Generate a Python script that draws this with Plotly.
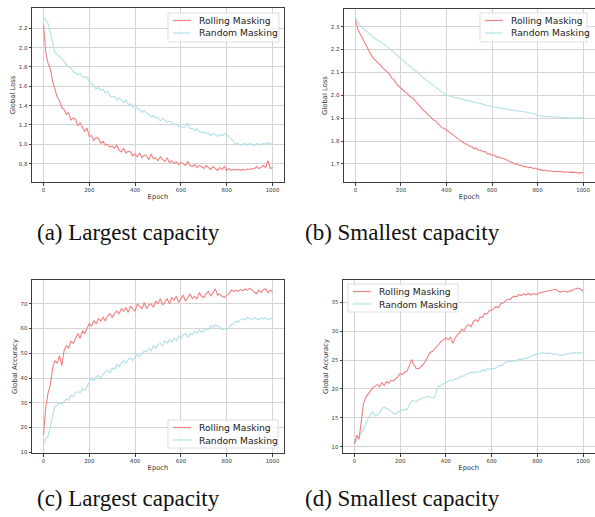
import plotly.graph_objects as go

# ---------------- data ----------------
epochs = list(range(0, 1001, 10))

loss_large_rolling = [
    2.24, 1.95, 1.84, 1.78, 1.65, 1.57, 1.49, 1.45, 1.38, 1.36,
    1.31, 1.33, 1.25, 1.27, 1.26, 1.19, 1.22, 1.18, 1.13, 1.17,
    1.08, 1.09, 1.04, 1.07, 1.06, 1.01, 1.03, 0.99, 1.00, 0.97,
    0.98, 0.96, 0.99, 0.94, 0.92, 0.96, 0.91, 0.93, 0.92, 0.88,
    0.90, 0.87, 0.91, 0.86, 0.89, 0.88, 0.84, 0.90, 0.85, 0.86,
    0.83, 0.87, 0.84, 0.82, 0.86, 0.81, 0.83, 0.80, 0.82, 0.79,
    0.81, 0.80, 0.78, 0.82, 0.78, 0.77, 0.79, 0.76, 0.78, 0.77,
    0.75, 0.78, 0.76, 0.74, 0.77, 0.75, 0.73, 0.76, 0.74, 0.77,
    0.73, 0.75, 0.73, 0.74, 0.735, 0.74, 0.73, 0.74, 0.735, 0.745,
    0.74, 0.75, 0.745, 0.77, 0.75, 0.76, 0.78, 0.76, 0.83, 0.75,
    0.76,
]
loss_large_random = [
    2.32, 2.29, 2.25, 2.15, 2.05, 1.95, 1.93, 1.91, 1.88, 1.86,
    1.82, 1.80, 1.79, 1.75, 1.74, 1.72, 1.73, 1.70, 1.69, 1.70,
    1.64, 1.62, 1.61, 1.57, 1.59, 1.56, 1.57, 1.53, 1.55, 1.50,
    1.49, 1.50, 1.46, 1.48, 1.45, 1.43, 1.46, 1.41, 1.42, 1.38,
    1.41, 1.37, 1.36, 1.33, 1.35, 1.32, 1.31, 1.28, 1.30, 1.27,
    1.28, 1.24, 1.27, 1.25, 1.23, 1.24, 1.22, 1.20, 1.21, 1.18,
    1.19, 1.17, 1.18, 1.22, 1.16, 1.17, 1.14, 1.16, 1.13, 1.12,
    1.13, 1.11, 1.12, 1.09, 1.11, 1.10, 1.08, 1.10, 1.09, 1.11,
    1.10, 1.08, 1.05, 1.03, 1.00, 1.01, 0.99, 1.00, 1.01, 0.99,
    1.01, 1.00, 0.985, 1.01, 1.00, 0.99, 1.01, 1.00, 1.02, 1.01,
    1.00,
]
loss_small_rolling = [
    2.33, 2.29, 2.27, 2.25, 2.23, 2.21, 2.19, 2.175, 2.16, 2.152,
    2.14, 2.132, 2.12, 2.112, 2.10, 2.092, 2.075, 2.067, 2.05, 2.042,
    2.03, 2.022, 2.013, 2.006, 1.993, 1.99, 1.978, 1.966, 1.953, 1.946,
    1.933, 1.926, 1.913, 1.906, 1.893, 1.89, 1.878, 1.871, 1.858, 1.856,
    1.848, 1.842, 1.833, 1.827, 1.818, 1.812, 1.803, 1.797, 1.788, 1.786,
    1.778, 1.776, 1.767, 1.769, 1.760, 1.761, 1.753, 1.754, 1.744, 1.744,
    1.738, 1.740, 1.730, 1.731, 1.725, 1.725, 1.718, 1.716, 1.708, 1.706,
    1.700, 1.699, 1.693, 1.694, 1.688, 1.689, 1.684, 1.685, 1.680, 1.682,
    1.676, 1.676, 1.671, 1.673, 1.669, 1.670, 1.668, 1.669, 1.666, 1.668,
    1.666, 1.667, 1.664, 1.666, 1.663, 1.664, 1.663, 1.662, 1.661, 1.660,
    1.664,
]
loss_small_random = [
    2.34, 2.32, 2.307, 2.295, 2.285, 2.28, 2.27, 2.26, 2.25, 2.245,
    2.24, 2.235, 2.228, 2.22, 2.212, 2.205, 2.197, 2.19, 2.18, 2.17,
    2.16, 2.152, 2.145, 2.137, 2.128, 2.12, 2.112, 2.104, 2.095, 2.085,
    2.075, 2.067, 2.058, 2.05, 2.042, 2.035, 2.028, 2.02, 2.012, 2.006,
    2.00, 1.998, 1.995, 1.993, 1.99, 1.99, 1.986, 1.983, 1.98, 1.977,
    1.975, 1.972, 1.97, 1.968, 1.965, 1.965, 1.96, 1.957, 1.955, 1.952,
    1.95, 1.948, 1.947, 1.945, 1.944, 1.943, 1.94, 1.938, 1.936, 1.935,
    1.933, 1.932, 1.93, 1.93, 1.928, 1.927, 1.925, 1.923, 1.92, 1.918,
    1.91, 1.909, 1.908, 1.908, 1.907, 1.907, 1.906, 1.906, 1.905, 1.905,
    1.905, 1.904, 1.903, 1.902, 1.901, 1.90, 1.902, 1.901, 1.901, 1.902,
    1.902,
]
acc_large_rolling = [
    17, 28, 34, 37, 44, 47, 46, 49, 45, 51,
    53, 52, 55, 54, 56, 58, 56, 59, 58, 60,
    62, 61, 63, 62, 64, 63, 64.5, 63, 65, 66,
    64.5, 66, 67, 66, 68, 67, 68.5, 66.5, 69, 68,
    67, 70, 69, 68, 70.5, 68, 69.5, 70, 68.5, 71,
    70, 72, 69.5, 71, 72, 70, 72.5, 71.5, 73, 70.5,
    72, 73.5, 71, 72.5, 74, 72, 73, 72, 74.5, 73,
    72.5, 74, 75, 73, 74.5, 76, 73.5, 74, 73, 72.5,
    73.5, 74, 75.5, 75, 75.5, 75, 75.8, 75.2, 76, 75.5,
    76.3, 75.5, 74.8, 74, 75.5, 74.5, 75.8, 76, 74.5, 75.5,
    74.8,
]
acc_large_random = [
    13, 15.5, 16.5, 21, 25, 28.5, 29, 30, 29.5, 30.5,
    31.5, 31, 33, 32.5, 34, 34.5, 34, 35.5, 35, 36.5,
    38, 40, 39, 40.5, 41, 40, 41.5, 42.5, 43, 42,
    44, 43.5, 45.5, 44.5, 46, 47, 46, 47.5, 48, 47,
    48.5, 49.5, 48.5, 50, 51, 50.5, 52, 51, 53, 52,
    53.5, 54, 53, 55, 54, 55.5, 54.5, 56, 55, 57,
    56, 57.5, 58, 56.5, 58, 57.5, 59, 58, 59.5, 58.5,
    59, 60, 59.5, 61, 60.5, 61.5, 61, 60.5, 59.5, 60,
    59.5, 60.5, 61.5, 62, 63, 62.5, 63.5, 64, 63.5, 64.5,
    64, 63.5, 64.5, 64, 63.5, 64.3, 63.8, 64.5, 63.5, 64,
    64.2,
]
acc_small_rolling = [
    10.5, 12.0, 11.3, 14.0, 17.5, 18.6, 19.2, 19.8, 20.2, 20.5,
    20.8, 20.4, 21.1, 20.6, 21.3, 21.0, 21.5, 21.4, 21.8, 22.1,
    22.7, 22.5, 22.9, 23.1, 24.0, 25.1, 24.2, 23.6, 23.5, 23.8,
    24.2, 24.8, 25.6, 26.3, 26.5, 26.9, 27.3, 27.8, 28.3, 28.5,
    28.9, 28.5, 29.0, 27.9, 28.8, 29.4, 29.7, 30.4, 30.1, 30.9,
    31.2, 30.8, 31.7, 32.0, 31.7, 32.5, 32.4, 33.1, 33.0, 33.6,
    33.6, 34.0, 34.3, 34.1, 34.8, 34.9, 35.2, 35.6, 35.5, 35.9,
    36.1, 36.0, 36.4, 36.2, 36.5, 36.3, 36.6, 36.3, 36.5, 36.4,
    36.4, 36.7, 36.8, 36.9, 37.0, 37.0, 37.1, 37.3, 37.3, 37.0,
    36.8, 36.9, 37.0, 36.8, 36.9, 37.1, 37.3, 37.4, 37.5, 37.3,
    37.0,
]
acc_small_random = [
    10.5, 11.2, 11.6, 12.3, 13.1, 14.0, 14.9, 15.6, 16.0, 15.3,
    15.5, 15.8, 16.6, 16.9, 16.6, 16.4, 16.2, 15.8, 15.7, 16.0,
    16.2, 16.3, 16.5, 16.4, 17.2, 18.0, 17.9, 17.8, 18.1, 18.3,
    18.4, 18.6, 18.7, 18.5, 18.4, 18.5, 20.0, 20.5, 20.6, 20.9,
    21.0, 21.4, 21.6, 21.4, 21.8, 21.7, 22.0, 22.3, 22.2, 22.6,
    22.7, 22.9, 22.8, 23.0, 22.9, 23.0, 23.3, 23.2, 23.5, 23.4,
    23.6, 23.5, 23.7, 24.0, 24.1, 24.2, 24.6, 24.8, 24.7, 24.9,
    24.8, 25.0, 25.2, 25.1, 25.3, 25.3, 25.5, 25.6, 25.8, 26.0,
    26.0, 26.1, 26.3, 26.2, 26.1, 26.3, 26.2, 26.0, 26.1, 25.9,
    25.8, 25.9, 26.0, 26.1, 26.2, 26.2, 26.3, 26.2, 26.3, 26.2,
    26.4,
]

series_names = ["Rolling Masking", "Random Masking"]
captions = ["(a) Largest capacity", "(b) Smallest capacity",
            "(c) Largest capacity", "(d) Smallest capacity"]
x_ticks = [0, 200, 400, 600, 800, 1000]
y_ticks_a = [0.8, 1.0, 1.2, 1.4, 1.6, 1.8, 2.0, 2.2]
y_ticks_b = [1.7, 1.8, 1.9, 2.0, 2.1, 2.2, 2.3]
y_ticks_c = [10, 20, 30, 40, 50, 60, 70]
y_ticks_d = [10, 15, 20, 25, 30, 35]

# ---------------- styling ----------------
W, H = 595, 517
RED = "#F08080"
CYAN = "#B0E0E6"
FONT = "DejaVu Sans"


def px(x):
    return x / W


def py(y):
    return 1 - y / H


panels = [
    ("x", "y", loss_large_rolling, loss_large_random, (32, 284), (8, 182),
     (0.61, 2.41), y_ticks_a, ".1f", "Global Loss", (168, 13, 279, 42)),
    ("x2", "y2", loss_small_rolling, loss_small_random, (344, 594.5), (9, 182),
     (1.621, 2.377), y_ticks_b, ".1f", "Global Loss", (480, 13, 587, 42)),
    ("x3", "y3", acc_large_rolling, acc_large_random, (32, 284), (280, 453),
     (9.7, 79.6), y_ticks_c, "d", "Global Accuracy", (168, 420, 278, 448)),
    ("x4", "y4", acc_small_rolling, acc_small_random, (343, 594.5), (280, 453),
     (8.9, 38.9), y_ticks_d, "d", "Global Accuracy", (348, 284, 458, 312)),
]

fig = go.Figure()
layout = dict(
    width=W, height=H,
    margin=dict(l=0, r=0, t=0, b=0),
    paper_bgcolor="white", plot_bgcolor="white",
    showlegend=False,
    font=dict(family=FONT, color="#333333"),
)

axis_common = dict(
    showline=True, linecolor="#3d3d3d", linewidth=1, mirror=True,
    showgrid=True, gridcolor="#d4d4d4", gridwidth=0.8,
    ticks="outside", ticklen=2.5, tickwidth=0.8, tickcolor="#3d3d3d",
    tickfont=dict(family=FONT, size=5.4, color="#333333"),
    zeroline=False, automargin=False,
)
title_font = dict(family=FONT, size=6.8, color="#333333")

shapes = []
annotations = []

for i, (xa, ya, roll, rand, xd, yd, yr, yt, fmt, ylab, lg) in enumerate(panels):
    fig.add_trace(go.Scatter(x=epochs, y=rand, mode="lines", name=series_names[1],
                             line=dict(color=CYAN, width=1.1), xaxis=xa, yaxis=ya))
    fig.add_trace(go.Scatter(x=epochs, y=roll, mode="lines", name=series_names[0],
                             line=dict(color=RED, width=1.1), xaxis=xa, yaxis=ya))
    xkey = "xaxis" if xa == "x" else "xaxis" + xa[1:]
    ykey = "yaxis" if ya == "y" else "yaxis" + ya[1:]
    layout[xkey] = dict(axis_common, domain=[px(xd[0]), px(xd[1])], anchor=ya,
                        range=[-50, 1050], tickvals=x_ticks,
                        title=dict(text="Epoch", font=title_font, standoff=2))
    layout[ykey] = dict(axis_common, domain=[py(yd[1]), py(yd[0])], anchor=xa,
                        range=list(yr), tickvals=yt, tickformat=fmt,
                        title=dict(text=ylab, font=title_font, standoff=2))

    # legend (box, line samples, labels)
    x0, y0, x1, y1 = lg
    shapes.append(dict(type="rect", xref="paper", yref="paper",
                       x0=px(x0), x1=px(x1), y0=py(y1), y1=py(y0),
                       line=dict(color="#d6d6d6", width=0.8),
                       fillcolor="rgba(255,255,255,0.85)", layer="above"))
    rows = [y0 + 7.5, y0 + 20]
    for name, color, ry in zip(series_names, [RED, CYAN], rows):
        shapes.append(dict(type="line", xref="paper", yref="paper",
                           x0=px(x0 + 5), x1=px(x0 + 23), y0=py(ry), y1=py(ry),
                           line=dict(color=color, width=1.2), layer="above"))
        annotations.append(dict(text=name, xref="paper", yref="paper",
                                x=px(x0 + 29), y=py(ry), xanchor="left", yanchor="middle",
                                showarrow=False,
                                font=dict(family=FONT, size=9.2, color="#222222")))

# captions
cap_pos = [(128, 232), (402, 232), (128, 498), (402, 498)]
for text, (cx, cy) in zip(captions, cap_pos):
    annotations.append(dict(text=text, xref="paper", yref="paper", x=px(cx), y=py(cy),
                            xanchor="center", yanchor="middle", showarrow=False,
                            font=dict(family="Liberation Serif", size=23, color="#111111")))

layout["shapes"] = shapes
layout["annotations"] = annotations
fig.update_layout(**layout)
fig.write_html("out.html", config={"displayModeBar": False},
               post_script="document.body.style.margin='0px';document.body.style.overflow='hidden';")
